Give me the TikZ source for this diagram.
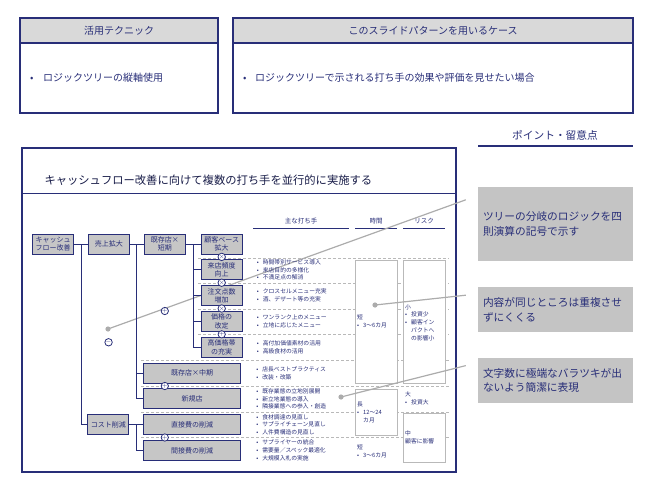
\documentclass[tikz,border=0pt]{standalone}
\usepackage{fontspec}
\setmainfont{Noto Sans CJK JP}
\usetikzlibrary{positioning,calc}

\definecolor{navy}{RGB}{40,46,120}
\definecolor{hdrgray}{RGB}{217,217,217}
\definecolor{boxgray}{RGB}{198,198,198}
\definecolor{notegray}{RGB}{196,196,196}
\definecolor{linkgray}{RGB}{172,172,172}

\newcommand{\bl}[1][6pt]{\makebox[#1][l]{\textbullet}}
\newcommand{\ind}{\hspace*{6pt}}

\tikzstyle{panel} = [rectangle, draw=navy, line width=1.5pt, minimum height=95pt, inner sep=0pt]
\tikzstyle{panelhdr} = [rectangle, draw=navy, line width=1.5pt, fill=hdrgray, minimum height=25pt, text=navy, font=\fontsize{10}{12}\selectfont]
\tikzstyle{paneltxt} = [anchor=west, inner sep=0pt, text=navy, font=\fontsize{10}{12}\selectfont]
\tikzstyle{note} = [rectangle, fill=notegray, text width=145pt, inner xsep=5pt, align=left, text=navy, font=\fontsize{10.7}{14.5}\selectfont]
\tikzstyle{treebox} = [rectangle, draw=navy, line width=0.9pt, fill=boxgray, minimum width=41pt, minimum height=20pt, inner sep=1pt, align=center, text=navy, font=\fontsize{7}{8.5}\selectfont]
\tikzstyle{widebox} = [treebox, minimum width=97pt]
\tikzstyle{opcirc} = [circle, draw=navy, line width=0.8pt, fill=white, minimum size=7pt, inner sep=0pt, text=navy, font=\fontsize{6}{6}\selectfont]
\tikzstyle{bul} = [anchor=west, align=left, inner sep=0pt, text=navy, font=\fontsize{5.8}{7.7}\selectfont]
\tikzstyle{colhdr} = [text=navy, font=\fontsize{6.5}{7}\selectfont]
\tikzstyle{colbox} = [rectangle, draw=gray!55, line width=0.8pt, fill=white, minimum width=42pt, inner sep=0pt]
\tikzstyle{tree} = [navy, line width=0.9pt]
\tikzstyle{sep} = [gray!55, line width=0.8pt, dash pattern=on 3pt off 2pt]
\tikzstyle{link} = [linkgray, line width=1.2pt]

\begin{document}
\begin{tikzpicture}[x=1pt, y=1pt, node distance=25.8pt]
\useasboundingbox (0,0) rectangle (650,-487);

% upper panels
\node (techbox) [panel, minimum width=198pt] at (119,-65.5) {};
\node (techhdr) [panelhdr, minimum width=198pt, below=0pt of techbox.north] {活用テクニック};
\node (techtxt) [paneltxt] at (30,-78) {\bl[13pt]ロジックツリーの縦軸使用};
\node (casebox) [panel, minimum width=400pt] at (433,-65.5) {};
\node (casehdr) [panelhdr, minimum width=400pt, below=0pt of casebox.north] {このスライドパターンを用いるケース};
\node (casetxt) [paneltxt] at (243,-78) {\bl[12pt]ロジックツリーで示される打ち手の効果や評価を見せたい場合};

% points
\node (pointhdr) [text=navy, font=\fontsize{10.7}{12}\selectfont] at (555,-135) {ポイント・留意点};
\draw [navy, line width=1.5pt] (478,-146) -- (633,-146);
\node (note1) [note, minimum height=74pt] at (555.5,-224) {ツリーの分岐のロジックを四\\則演算の記号で示す};
\node (note2) [note, minimum height=45pt, below=26pt of note1] {内容が同じところは重複させ\\ずにくくる};
\node (note3) [note, minimum height=45pt, below=25pt of note2] {文字数に極端なバラツキが出\\ないよう簡潔に表現};

% slide
\node (slide) [draw=navy, line width=1.6pt, minimum width=434pt, minimum height=324pt, inner sep=0pt] at (239,-310) {};
\node (title) [anchor=west, text=navy!60!black, font=\fontsize{11.3}{13}\selectfont] at (41,-180) {キャッシュフロー改善に向けて複数の打ち手を並行的に実施する};
\draw [navy, line width=1pt] (slide.west |- 0,-193) -- (slide.east |- 0,-193);

\node (hmain) [colhdr] at (301,-221) {主な打ち手};
\node (htime) [colhdr] at (376,-221) {時間};
\node (hrisk) [colhdr] at (424,-221) {リスク};
\draw [navy, line width=0.9pt] (253,-228) -- (349,-228);
\draw [navy, line width=0.9pt] (355,-228) -- (397,-228);
\draw [navy, line width=0.9pt] (403,-228) -- (445,-228);

% row separators
\foreach \y in {258,283,309,334}
  \draw [sep] (198,-\y) -- (449,-\y);
\foreach \y in {360,386,412,437}
  \draw [sep] (141,-\y) -- (449,-\y);

% time and risk
\node (tbox1) [colbox, minimum height=123pt] at (376,-321.5) {};
\node (tbox2) [colbox, minimum height=46pt] at (376,-412) {};
\node (rbox1) [colbox, minimum height=123pt] at (424,-321.5) {};
\node (rbox2) [colbox, minimum height=49pt] at (424,-437.5) {};
\node (tshort) [bul] at (357,-321.5) {短\\\bl 3〜6カ月};
\node (tlong) [bul] at (357,-412.5) {長\\\bl 12〜24\\\ind カ月};
\node (tshort2) [bul] at (357,-451) {短\\\bl 3〜6カ月};
\node (rsmall) [bul] at (405,-322.5) {小\\\bl 投資少\\\bl 顧客イン\\\ind パクトへ\\\ind の影響小};
\node (rlarge) [bul] at (405,-398.5) {大\\\bl 投資大};
\node (rmid) [bul] at (405,-437.5) {中\\顧客に影響};

% links to notes
\coordinate (dot1) at (108,-329);
\coordinate (dot2) at (375,-305);
\coordinate (dot3) at (341,-397);
\draw [link] ([xshift=-12pt,yshift=-13pt]note1.north west) -- (dot1);
\draw [link] ([xshift=-12pt,yshift=-8pt]note2.north west) -- (dot2);
\draw [link] ([xshift=-12pt,yshift=-8pt]note3.north west) -- (dot3);
\foreach \d in {dot1,dot2,dot3}
  \fill [linkgray] (\d) circle (2.6pt);

% tree
\node (cf) [treebox] at (53,-244) {キャッシュ\\フロー改善};
\node (sales) [treebox, right=14pt of cf] {売上拡大};
\node (short) [treebox, right=14pt of sales] {既存店×\\短期};
\node (cust) [treebox, right=15pt of short] {顧客ベース\\拡大};
\node (freq) [treebox, below of=cust] {来店頻度\\向上};
\node (items) [treebox, below of=freq] {注文点数\\増加};
\node (price) [treebox, below of=items] {価格の\\改定};
\node (prem) [treebox, below of=price] {高価格帯\\の充実};
\node (mid) [widebox, below of=prem, xshift=-29.5pt] {既存店×中期};
\node (newst) [widebox, below of=mid] {新規店};
\node (direct) [widebox, below of=newst] {直接費の削減};
\node (indirect) [widebox, below of=direct] {間接費の削減};
\node (cost) [treebox, left=14pt of direct] {コスト削減};

\draw [tree] (cf) -- (sales);
\draw [tree] (cf.east) -- ++(7.5,0) |- (cost.west);
\draw [tree] (sales) -- (short);
\draw [tree] ($(sales.east)+(7,0)$) |- (mid.west);
\draw [tree] ($(sales.east)+(7,0)$) |- (newst.west);
\draw [tree] (short) -- (cust);
\foreach \n in {freq,items,price,prem}
  \draw [tree] ($(short.east)+(8,0)$) |- (\n.west);
\draw [tree] (cost) -- (direct);
\draw [tree] ($(cost.east)+(7,0)$) |- (indirect.west);

\node (op1) [opcirc] at ($(sales.south)!0.55!(cost.north)$) {$-$};
\node (op2) [opcirc] at (short |- 0,-311) {$+$};
\node (op3) [opcirc] at ($(cust.south)!0.5!(freq.north)$) {$\times$};
\node (op4) [opcirc] at ($(freq.south)!0.5!(items.north)$) {$\times$};
\node (op5) [opcirc] at ($(items.south)!0.5!(price.north)$) {$\times$};
\node (op6) [opcirc] at ($(price.south)!0.5!(prem.north)$) {$+$};
\node (op7) [opcirc] at (short |- 0,-386) {$+$};
\node (op8) [opcirc] at (short |- 0,-437.5) {$+$};

% measures
\node (mfreq) [bul, right=14pt of freq] {\bl 時間帯別サービス導入\\\bl 来店目的の多様化\\\bl 不満足点の解消};
\node (mitems) [bul, right=14pt of items] {\bl クロスセルメニュー充実\\\bl 酒、デザート等の充実};
\node (mprice) [bul, right=14pt of price] {\bl ワンランク上のメニュー\\\bl 立地に応じたメニュー};
\node (mprem) [bul, right=14pt of prem] {\bl 高付加価値素材の活用\\\bl 高級食材の活用};
\node (mmid) [bul, right=15pt of mid] {\bl 店長ベストプラクティス\\\bl 改装・改築};
\node (mnew) [bul, right=15pt of newst] {\bl 既存業態の立地別展開\\\bl 新立地業態の導入\\\bl 隣接業態への参入・創造};
\node (mdirect) [bul, right=15pt of direct] {\bl 食材調達の見直し\\\bl サプライチェーン見直し\\\bl 人件費構造の見直し};
\node (mindirect) [bul, right=15pt of indirect] {\bl サプライヤーの統合\\\bl 需要量／スペック最適化\\\bl 大規模入札の実施};

\end{tikzpicture}
\end{document}
